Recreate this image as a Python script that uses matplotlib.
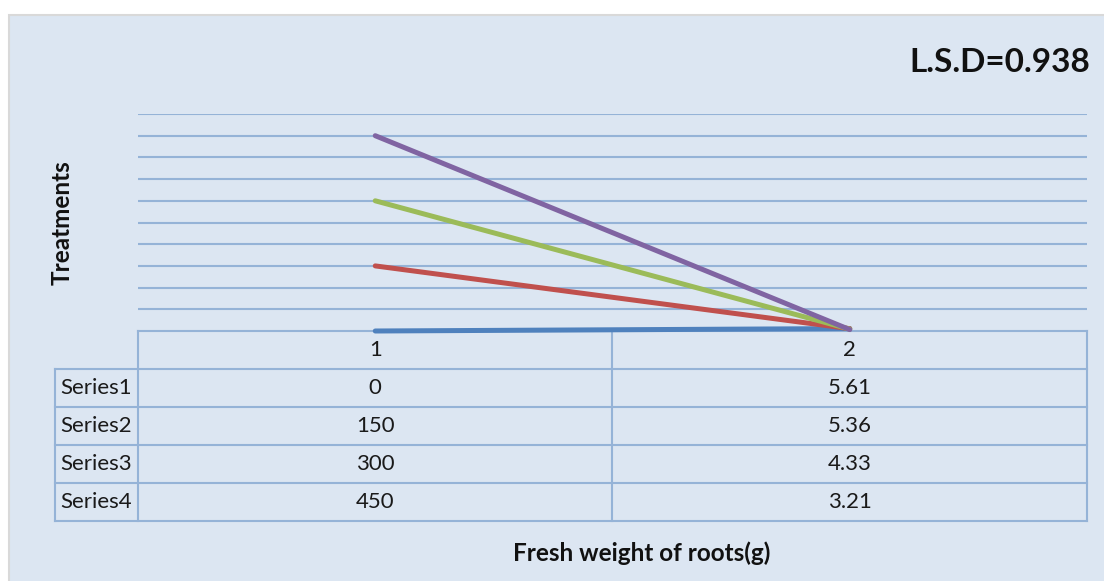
import matplotlib.pyplot as plt
from matplotlib.lines import Line2D
from matplotlib.patches import Rectangle

plt.rcParams['font.family'] = ['Lato', 'DejaVu Sans']

categories = ["1", "2"]
series_names = ["Series1", "Series2", "Series3", "Series4"]
series_values = [
    [0, 5.61],
    [150, 5.36],
    [300, 4.33],
    [450, 3.21],
]
series_labels = [["0", "5.61"], ["150", "5.36"], ["300", "4.33"], ["450", "3.21"]]
colors = ["#4f81bd", "#c0504d", "#9bbb59", "#8064a2"]
grid_color = "#95b3d7"
bg_color = "#dce6f2"

W, H = 1104, 581


def fx(x):
    return x / W


def fy(y):
    return 1 - y / H


fig = plt.figure(figsize=(W / 100, H / 100), dpi=100, facecolor="white")

# chart area background
fig.add_artist(Rectangle((fx(9), fy(600)), fx(1120 - 9), fy(15) - fy(600),
                         transform=fig.transFigure, facecolor=bg_color,
                         edgecolor="#d9d9d9", linewidth=1.5, zorder=0))

ax = fig.add_axes([fx(138), fy(331), fx(1087) - fx(138), fy(114) - fy(331)])
ax.set_zorder(5)
ax.set_facecolor("none")
ax.set_xlim(0.5, 2.5)
ax.set_ylim(0, 500)
ax.set_yticks(range(50, 501, 50))
ax.set_xticks([])
ax.tick_params(left=False, labelleft=False)
ax.grid(axis="y", color=grid_color, linewidth=1.5)
for side in ["left", "right", "top", "bottom"]:
    ax.spines[side].set_visible(False)

x = [1, 2]
for vals, c in zip(series_values, colors):
    ax.plot(x, vals, color=c, linewidth=3.6, solid_capstyle="round",
            zorder=3, clip_on=False)

# data table below the plot
def hline(y, x0, x1):
    fig.add_artist(Line2D([fx(x0), fx(x1)], [fy(y), fy(y)], transform=fig.transFigure,
                          color=grid_color, linewidth=1.5))


def vline(xp, y0, y1):
    fig.add_artist(Line2D([fx(xp), fx(xp)], [fy(y0), fy(y1)], transform=fig.transFigure,
                          color=grid_color, linewidth=1.5))


row_tops = [369, 407, 445, 483, 521]
hline(331, 138, 1087)
for y in row_tops:
    hline(y, 55, 1087)
vline(55, 369, 521)
vline(138, 331, 521)
vline(612, 331, 521)
vline(1087, 331, 521)

text_kw = dict(fontsize=16, color="#1a1a1a", va="center")
for i, cat in enumerate(categories):
    xc = ax.transData.transform((i + 1, 0))[0] / W
    fig.text(xc, fy(350), cat, ha="center", **text_kw)
    for r, labels in enumerate(series_labels):
        fig.text(xc, fy((row_tops[r] + row_tops[r + 1]) / 2), labels[i],
                 ha="center", **text_kw)

for r, name in enumerate(series_names):
    fig.text(fx(60), fy((row_tops[r] + row_tops[r + 1]) / 2), name,
             ha="left", **text_kw)

fig.text(fx(1090), fy(62), "L.S.D=0.938", ha="right", va="center",
         fontsize=24, fontweight="bold", color="#111111")
fig.text(fx(642), fy(553), "Fresh weight of roots(g)", ha="center", va="center",
         fontsize=17.5, fontweight="bold", color="#111111")
fig.text(fx(62), fy(223), "Treatments", ha="center", va="center", rotation=90,
         fontsize=17.5, fontweight="bold", color="#111111")

fig.savefig("out.png", dpi=100, facecolor="white")
